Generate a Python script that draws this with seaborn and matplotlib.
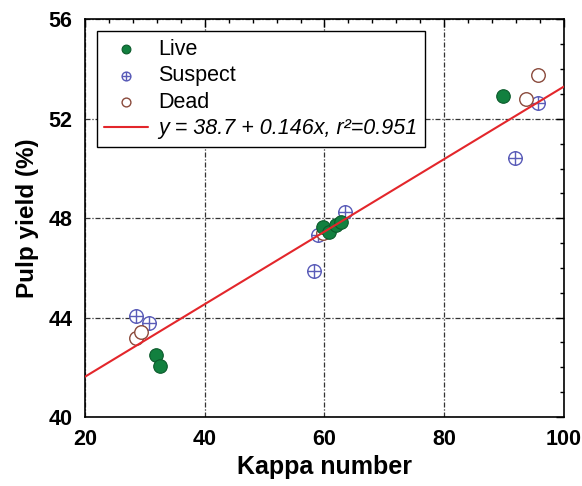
import numpy as np
import pandas as pd
import seaborn as sns
import matplotlib.pyplot as plt
from matplotlib.path import Path
from matplotlib.ticker import MultipleLocator

# Data
live_kappa = [31.9, 32.5, 59.7, 60.8, 61.9, 62.8, 89.9]
live_yield = [42.5, 42.05, 47.66, 47.46, 47.73, 47.86, 52.93]

suspect_kappa = [28.6, 30.7, 58.3, 58.9, 63.5, 91.9, 95.6]
suspect_yield = [44.06, 43.77, 45.89, 47.32, 48.24, 50.43, 52.62]

dead_kappa = [28.6, 29.3, 59.7, 93.6, 95.6]
dead_yield = [43.17, 43.43, 47.39, 52.8, 53.76]

# fitted line as printed in the legend
intercept = 38.7
slope = 0.146
r2 = 0.951
fit_x = np.array([20, 100])

sns.set_style("white")
plt.rcParams['font.family'] = ['Liberation Sans', 'DejaVu Sans']
plt.rcParams['text.color'] = 'black'
plt.rcParams['axes.labelcolor'] = 'black'
plt.rcParams['xtick.color'] = 'black'
plt.rcParams['ytick.color'] = 'black'

fig, ax = plt.subplots(figsize=(5.82, 4.86), dpi=100)
fig.subplots_adjust(left=0.146, right=0.969, top=0.960, bottom=0.142)

# circle with a cross inside for "suspect"
circ = Path.unit_circle()
cross = Path([(-1, 0), (1, 0), (0, -1), (0, 1)],
             [Path.MOVETO, Path.LINETO, Path.MOVETO, Path.LINETO])
oplus = Path.make_compound_path(circ, cross)

sns.scatterplot(x=suspect_kappa, y=suspect_yield, marker=oplus, s=95,
                facecolor='white', edgecolor='#5a5cb8', linewidth=1.0,
                label='Suspect', zorder=3, ax=ax)
sns.scatterplot(x=dead_kappa, y=dead_yield, marker='o', s=95,
                facecolor='white', edgecolor='#8a4a3c', linewidth=1.0,
                label='Dead', zorder=4, ax=ax)
sns.scatterplot(x=live_kappa, y=live_yield, marker='o', s=95,
                color='#12803f', edgecolor='#0b5a2b', linewidth=0.8,
                label='Live', zorder=5, ax=ax)

sns.lineplot(x=fit_x, y=intercept + slope * fit_x, color='#e3262b', lw=1.5,
             label=f"y = {intercept} + {slope}x, r\u00b2={r2}", zorder=6, ax=ax)

ax.set_xlim(20, 100)
ax.set_ylim(40, 56)
ax.xaxis.set_major_locator(MultipleLocator(20))
ax.xaxis.set_minor_locator(MultipleLocator(4))
ax.yaxis.set_major_locator(MultipleLocator(4))
ax.yaxis.set_minor_locator(MultipleLocator(1))

ax.tick_params(which='both', direction='in', top=True, right=True,
               color='black', width=1.0)
ax.tick_params(which='major', length=6, labelsize=15.5, pad=9)
ax.tick_params(which='minor', length=3)
for lab in ax.get_xticklabels() + ax.get_yticklabels():
    lab.set_fontweight('bold')

ax.grid(True, which='major', color='#333333', lw=0.9,
        linestyle=(0, (4, 1.5, 1, 1.5)))
for sp in ax.spines.values():
    sp.set_visible(True)
    sp.set_color('black')
    sp.set_linewidth(1.2)

ax.set_xlabel("Kappa number", fontsize=18, fontweight='bold', labelpad=3)
ax.set_ylabel("Pulp yield (%)", fontsize=17.5, fontweight='bold', labelpad=7)

handles, labels = ax.get_legend_handles_labels()
order = [2, 0, 1, 3]
leg = ax.legend([handles[i] for i in order], [labels[i] for i in order],
                loc='upper left', bbox_to_anchor=(0.025, 0.97),
                fontsize=15.5, frameon=True, fancybox=False, framealpha=1,
                edgecolor='black', markerscale=0.65, labelspacing=0.25,
                handlelength=2.0, handletextpad=0.5, borderpad=0.35,
                borderaxespad=0)
leg.get_frame().set_linewidth(1.0)
leg.get_texts()[3].set_fontstyle('italic')

plt.savefig('out.png', dpi=100)
